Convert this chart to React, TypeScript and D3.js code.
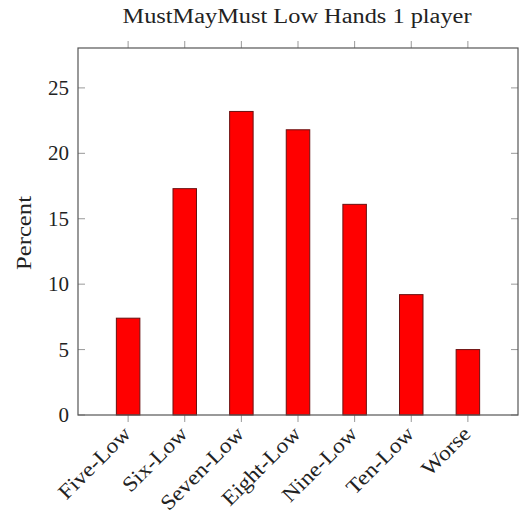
import React from "react";
import * as d3 from "d3";

const categories = ["Five-Low", "Six-Low", "Seven-Low", "Eight-Low", "Nine-Low", "Ten-Low", "Worse"];
const values = [7.4, 17.3, 23.2, 21.8, 16.1, 9.2, 5.0];
const yTicks = [0, 5, 10, 15, 20, 25];
const title = "MustMayMust Low Hands 1 player";
const yLabel = "Percent";

const W = 522, H = 513;
const L = 78, R = 518, T = 48, B = 415;
const FONT = "'Liberation Serif', 'DejaVu Serif', serif";

export default function App() {
  const x = d3.scaleLinear().domain([-0.885, categories.length - 1 + 0.885]).range([L, R]);
  const y = d3.scaleLinear().domain([0, 28.05]).range([B, T]);
  const bw = 23.5;
  const tickColor = "#999";
  return (
    <svg width={W} height={H} style={{ position: "absolute", left: 0, top: 0, background: "#fff" }}>
      <text x={297} y={23} fontFamily={FONT} fontSize={20} textAnchor="middle" fill="#222"
        textLength={349} lengthAdjust="spacingAndGlyphs">{title}</text>
      {categories.map((c, i) => (
        <g key={"xt" + i}>
          <line x1={x(i)} x2={x(i)} y1={T} y2={T - 7} stroke={tickColor} />
          <line x1={x(i)} x2={x(i)} y1={B} y2={B + 7} stroke={tickColor} />
        </g>
      ))}
      {yTicks.map((t) => (
        <g key={"yt" + t}>
          <line x1={L} x2={L + 7} y1={y(t)} y2={y(t)} stroke={tickColor} />
          <line x1={R} x2={R - 7} y1={y(t)} y2={y(t)} stroke={tickColor} />
          <text x={L - 9} y={y(t) + 7} fontFamily={FONT} fontSize={21} textAnchor="end" fill="#222">{t}</text>
        </g>
      ))}
      {values.map((v, i) => (
        <rect key={"b" + i} x={x(i) - bw / 2} y={y(v)} width={bw} height={y(0) - y(v)}
          fill="#ff0000" stroke="#6a1010" strokeWidth={1} />
      ))}
      <rect x={L} y={T} width={R - L} height={B - T} fill="none" stroke="#555" strokeWidth={1.2} />
      {categories.map((c, i) => (
        <text key={"xl" + i} transform={`translate(${x(i) + 4},${B + 20}) rotate(-45) scale(1.12,1)`}
          fontFamily={FONT} fontSize={21} textAnchor="end" fill="#222">{c}</text>
      ))}
      <text transform={`translate(31,233) rotate(-90)`} fontFamily={FONT} fontSize={21}
        textAnchor="middle" fill="#222" textLength={74} lengthAdjust="spacingAndGlyphs">{yLabel}</text>
    </svg>
  );
}
